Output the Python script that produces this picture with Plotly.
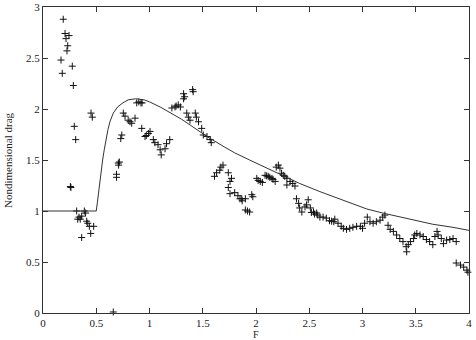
import plotly.graph_objects as go

# Smooth model curve
curve_F = [0.0, 0.5, 0.51, 0.52, 0.53, 0.54, 0.55, 0.56, 0.575, 0.59, 0.61, 0.63, 0.66, 0.7, 0.75,
           0.8, 0.87, 0.95, 1.0, 1.1, 1.22, 1.3, 1.4, 1.54, 1.7, 1.8, 1.94, 2.1, 2.26, 2.41, 2.6,
           2.73, 2.9, 3.04, 3.19, 3.35, 3.5, 3.66, 3.85, 4.0]
curve_D = [1.0, 1.0, 1.08, 1.17, 1.26, 1.34, 1.42, 1.5, 1.6, 1.7, 1.8, 1.88, 1.96, 2.02, 2.06,
           2.09, 2.10, 2.09, 2.07, 2.02, 1.95, 1.9, 1.83, 1.73, 1.63, 1.57, 1.5, 1.42, 1.34, 1.27, 1.19,
           1.14, 1.08, 1.02, 0.98, 0.94, 0.91, 0.87, 0.84, 0.81]

meas_F = [0.19, 0.207, 0.244, 0.216, 0.232, 0.225, 0.169, 0.275, 0.181, 0.285, 0.451, 0.463, 0.294, 0.307,
          0.257, 0.262, 0.316, 0.388, 0.40, 0.338, 0.326, 0.35, 0.363, 0.41, 0.42, 0.435, 0.476, 0.448,
          0.363, 0.66,
          0.88, 0.90, 0.92, 0.93, 0.754, 0.77, 0.80, 0.817, 0.833, 0.864, 0.927, 1.005, 0.99, 0.958, 0.97,
          1.036, 1.05, 1.08, 1.10, 1.11, 1.146, 1.16, 1.19, 0.74, 0.73, 0.717, 0.71, 0.69, 0.69, 0.707,
          1.405, 1.41, 1.32, 1.33, 1.32, 1.27, 1.24, 1.21, 1.29, 1.25, 1.35, 1.365, 1.38, 1.43, 1.44, 1.46,
          1.49, 1.505, 1.54, 1.57, 1.58, 1.69, 1.67, 1.66, 1.63, 1.61, 1.74, 1.77, 1.756, 1.74, 1.756,
          1.80, 1.83, 1.866, 1.90, 1.85, 1.87, 1.96, 1.97, 1.90, 1.92, 1.94,
          2.007, 2.02, 2.04, 2.06, 2.085, 2.10, 2.115, 2.13, 2.15, 2.16, 2.18, 2.19, 2.21, 2.225, 2.24,
          2.256, 2.27, 2.29, 2.32, 2.345, 2.366, 2.29, 2.38, 2.40, 2.41, 2.43, 2.46, 2.475, 2.49, 2.51,
          2.54, 2.57,
          2.52, 2.55, 2.58, 2.60, 2.63, 2.66, 2.69, 2.71, 2.73, 2.74, 2.77, 2.80, 2.82, 2.85, 2.88, 2.91,
          2.945, 2.98, 3.0, 3.02, 3.045, 3.07, 3.10, 3.13, 3.165, 3.19, 3.21, 3.24,
          3.26, 3.29, 3.32, 3.35, 3.38, 3.41, 3.415, 3.43, 3.45, 3.48, 3.49, 3.51, 3.54, 3.57, 3.60, 3.63,
          3.66, 3.68, 3.70, 3.71, 3.74, 3.76, 3.79, 3.82, 3.85, 3.88, 3.88, 3.92, 3.95, 3.98, 3.99]
meas_D = [2.88, 2.74, 2.72, 2.69, 2.62, 2.57, 2.48, 2.42, 2.35, 2.23, 1.96, 1.92, 1.83, 1.70,
          1.24, 1.23, 1.00, 1.00, 0.98, 0.94, 0.92, 0.92, 0.95, 0.90, 0.88, 0.85, 0.85, 0.78,
          0.74, 0.01,
          2.06, 2.07, 2.06, 2.06, 1.96, 1.93, 1.89, 1.875, 1.86, 1.91, 1.81, 1.78, 1.76, 1.73, 1.74,
          1.70, 1.67, 1.65, 1.60, 1.55, 1.61, 1.66, 1.70, 1.745, 1.71, 1.48, 1.45, 1.36, 1.33, 1.47,
          2.19, 2.17, 2.15, 2.12, 2.10, 2.04, 2.02, 2.01, 2.02, 2.03, 1.96, 1.92, 1.89, 1.96, 1.92, 1.875,
          1.81, 1.745, 1.73, 1.70, 1.67, 1.45, 1.43, 1.40, 1.375, 1.34, 1.375, 1.32, 1.29, 1.23, 1.17,
          1.18, 1.15, 1.12, 1.12, 1.12, 1.10, 1.16, 1.14, 1.01, 1.00, 0.99,
          1.32, 1.30, 1.29, 1.28, 1.35, 1.345, 1.34, 1.33, 1.32, 1.31, 1.29, 1.43, 1.45, 1.42, 1.37,
          1.35, 1.34, 1.32, 1.29, 1.27, 1.245, 1.255, 1.12, 1.075, 1.03, 0.99, 1.04, 1.06, 1.11, 1.03,
          0.99, 0.98,
          0.985, 0.97, 0.96, 0.94, 0.94, 0.93, 0.905, 0.90, 0.895, 0.92, 0.88, 0.85, 0.83, 0.82, 0.83, 0.84,
          0.85, 0.85, 0.83, 0.88, 0.94, 0.895, 0.88, 0.895, 0.91, 0.94, 0.96, 0.86,
          0.82, 0.80, 0.765, 0.73, 0.70, 0.65, 0.60, 0.67, 0.70, 0.73, 0.765, 0.78, 0.765, 0.75, 0.72, 0.70,
          0.67, 0.75, 0.80, 0.765, 0.73, 0.68, 0.715, 0.72, 0.73, 0.70, 0.49, 0.47, 0.45, 0.42, 0.40]

x_ticks = [0, 0.5, 1, 1.5, 2, 2.5, 3, 3.5, 4]
y_ticks = [0, 0.5, 1, 1.5, 2, 2.5, 3]
x_title = "F"
y_title = "Nondimensional drag"

fig = go.Figure()
fig.add_trace(go.Scatter(x=meas_F, y=meas_D, mode="markers",
                         marker=dict(symbol="cross-thin", size=5, line=dict(color="#111", width=1)),
                         showlegend=False, cliponaxis=False))
fig.add_trace(go.Scatter(x=curve_F, y=curve_D, mode="lines",
                         line=dict(color="#333", width=1), showlegend=False))

font = dict(family="Liberation Serif", size=11, color="#222")
axis_common = dict(showgrid=False, zeroline=False, showline=True, linecolor="#333", linewidth=1,
                   mirror="ticks", ticks="inside", ticklen=5, tickcolor="#333", tickfont=font,
                   automargin=False)
fig.update_layout(
    width=476, height=340,
    margin=dict(l=43, r=7, t=7, b=27),
    plot_bgcolor="white", paper_bgcolor="white",
    font=font,
    xaxis=dict(range=[0, 4], tickvals=x_ticks, ticktext=[str(v) for v in x_ticks], **axis_common),
    yaxis=dict(range=[0, 3], tickvals=y_ticks, ticktext=[str(v) for v in y_ticks], **axis_common),
    annotations=[
        dict(text=x_title, xref="paper", yref="paper", x=0.5, y=0, xanchor="center", yanchor="bottom",
             yshift=-27, height=10, borderpad=0, showarrow=False,
             font=dict(family="Liberation Serif", size=10, color="#222")),
        dict(text=y_title, xref="paper", yref="paper", x=0, y=0.5, xanchor="center", yanchor="middle",
             xshift=-35, textangle=-90, showarrow=False, font=font),
    ],
)
fig.write_html("out.html")
